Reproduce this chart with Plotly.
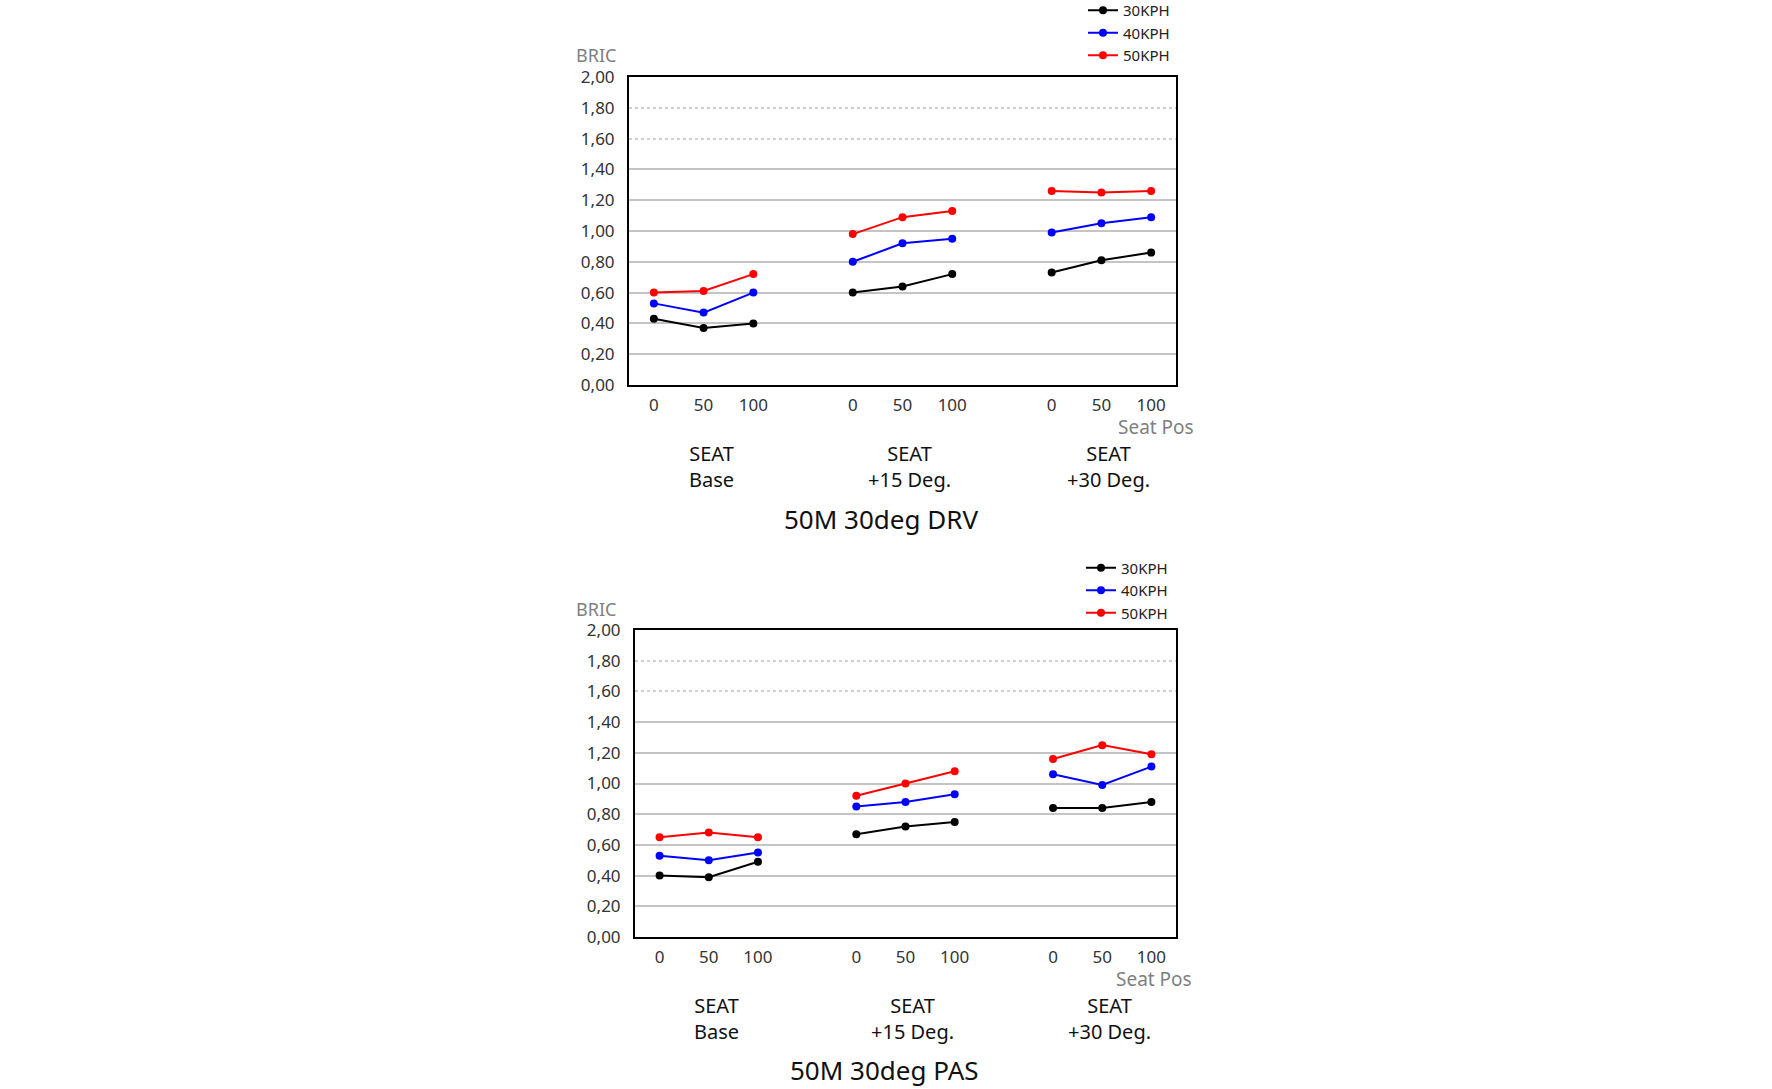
import plotly.graph_objects as go

seat_groups = ["SEAT<br>Base", "SEAT<br>+15 Deg.", "SEAT<br>+30 Deg."]
seat_pos = ["0", "50", "100"]
speeds = ["30KPH", "40KPH", "50KPH"]
colors = {"30KPH": "#000000", "40KPH": "#0000ff", "50KPH": "#ff0000"}
y_ticks = [0.0, 0.2, 0.4, 0.6, 0.8, 1.0, 1.2, 1.4, 1.6, 1.8, 2.0]
solid_grid = [0.2, 0.4, 0.6, 0.8, 1.0, 1.2, 1.4]
dotted_grid = [1.6, 1.8]

# values per speed: [Base 0,50,100 | +15 0,50,100 | +30 0,50,100]
drv_30 = [0.43, 0.37, 0.40, 0.60, 0.64, 0.72, 0.73, 0.81, 0.86]
drv_40 = [0.53, 0.47, 0.60, 0.80, 0.92, 0.95, 0.99, 1.05, 1.09]
drv_50 = [0.60, 0.61, 0.72, 0.98, 1.09, 1.13, 1.26, 1.25, 1.26]

pas_30 = [0.40, 0.39, 0.49, 0.67, 0.72, 0.75, 0.84, 0.84, 0.88]
pas_40 = [0.53, 0.50, 0.55, 0.85, 0.88, 0.93, 1.06, 0.99, 1.11]
pas_50 = [0.65, 0.68, 0.65, 0.92, 1.00, 1.08, 1.16, 1.25, 1.19]

drv = {"30KPH": drv_30, "40KPH": drv_40, "50KPH": drv_50}
pas = {"30KPH": pas_30, "40KPH": pas_40, "50KPH": pas_50}

n_pos = len(seat_pos)
step = n_pos + 1  # one empty slot between groups


def build_xy(vals):
    xs, ys = [], []
    for g in range(len(seat_groups)):
        for p in range(n_pos):
            xs.append(g * step + p)
            ys.append(vals[g * n_pos + p])
        xs.append(None)
        ys.append(None)
    return xs[:-1], ys[:-1]


tickvals = [g * step + p for g in range(len(seat_groups)) for p in range(n_pos)]
ticktext = [seat_pos[p] for g in range(len(seat_groups)) for p in range(n_pos)]
group_centers = [g * step + (n_pos - 1) / 2 for g in range(len(seat_groups))]

W, H = 1772, 1089


def px(p):
    return p / W


def py(p):
    return 1 - p / H


FONT = "Noto Sans"
fig = go.Figure()

# empty helper traces so the grid-only overlay axes get drawn
for xa, ya in [("x", "y3"), ("x", "y4"), ("x2", "y5"), ("x2", "y6")]:
    fig.add_trace(go.Scatter(x=[None], y=[None], xaxis=xa, yaxis=ya, mode="lines",
                             showlegend=False, hoverinfo="skip"))

for data, xa, ya, lg in [(drv, "x", "y", "legend"), (pas, "x2", "y2", "legend2")]:
    for s in speeds:
        xs, ys = build_xy(data[s])
        fig.add_trace(go.Scatter(
            x=xs, y=ys, mode="lines+markers", name=s,
            line=dict(color=colors[s], width=2),
            marker=dict(color=colors[s], size=8, symbol="circle"),
            connectgaps=False, xaxis=xa, yaxis=ya, legend=lg,
        ))

axis_common_x = dict(
    range=[-0.5, 10.5], tickvals=tickvals, ticktext=ticktext,
    showline=True, linecolor="black", linewidth=2, mirror=True,
    showgrid=False, zeroline=False, ticks="", ticklabelstandoff=4,
    tickfont=dict(family=FONT, size=17, color="#333333"),
)
axis_common_y = dict(
    range=[0, 2.0], tickvals=y_ticks, tickformat=".2f",
    showline=True, linecolor="black", linewidth=2, mirror=True,
    showgrid=False, zeroline=False,
    ticks="", ticklabelstandoff=9,
    tickfont=dict(family=FONT, size=17, color="#333333"),
)
grid_solid = dict(range=[0, 2.0], tickvals=solid_grid, showticklabels=False,
                  showgrid=True, gridcolor="#c4c4c4", gridwidth=1.5,
                  zeroline=False, showline=False, ticks="")
grid_dot = dict(range=[0, 2.0], tickvals=dotted_grid, showticklabels=False,
                showgrid=True, gridcolor="#cfcfcf", gridwidth=1.5, griddash="dot",
                zeroline=False, showline=False, ticks="")

leg_common = dict(xanchor="left", yanchor="top", bgcolor="rgba(0,0,0,0)",
                  itemwidth=30, tracegroupgap=0,
                  font=dict(family=FONT, size=15, color="#222222"))

fig.update_layout(
    width=W, height=H,
    margin=dict(l=0, r=0, t=0, b=0, autoexpand=False),
    paper_bgcolor="white", plot_bgcolor="white",
    separators=", ",
    font=dict(family=FONT),
    xaxis=dict(domain=[px(629), px(1176)], anchor="y", **axis_common_x),
    yaxis=dict(domain=[py(385), py(77)], anchor="x", **axis_common_y),
    xaxis2=dict(domain=[px(635), px(1176)], anchor="y2", **axis_common_x),
    yaxis2=dict(domain=[py(937), py(630)], anchor="x2", **axis_common_y),
    yaxis3=dict(overlaying="y", anchor="x", **grid_solid),
    yaxis4=dict(overlaying="y", anchor="x", **grid_dot),
    yaxis5=dict(overlaying="y2", anchor="x2", **grid_solid),
    yaxis6=dict(overlaying="y2", anchor="x2", **grid_dot),
    legend=dict(x=px(1083), y=1 + 6 / H, **leg_common),
    legend2=dict(x=px(1081), y=py(551.5), **leg_common),
    showlegend=True,
)

titles = ["50M 30deg DRV", "50M 30deg PAS"]
annotations = []
for i, (ybric, yunit, xunit, yseat, ytitle, xtitle, xr) in enumerate([
    (py(55), py(427), px(1156), py(466), py(519), px(881), "x"),
    (py(609), py(979), px(1154), py(1018), py(1070), px(884), "x2"),
]):
    base = dict(showarrow=False, xanchor="center", yanchor="middle", yref="paper")
    annotations.append(dict(text="BRIC", x=px(596), y=ybric, xref="paper",
                            font=dict(family=FONT, size=18, color="#7f7f7f"), **base))
    annotations.append(dict(text="Seat Pos", x=xunit, y=yunit, xref="paper",
                            font=dict(family=FONT, size=19, color="#7f7f7f"), **base))
    for gc, g in zip(group_centers, seat_groups):
        annotations.append(dict(text=g, x=gc + 0.15, y=yseat, xref=xr, align="center",
                                font=dict(family=FONT, size=20, color="#111111"), **base))
    annotations.append(dict(text=titles[i], x=xtitle, y=ytitle, xref="paper",
                            font=dict(family=FONT, size=26, color="#111111"), **base))

fig.update_layout(annotations=annotations)
fig.write_html("out.html", config={"displayModeBar": False},
               post_script="document.body.style.margin='0px';")
